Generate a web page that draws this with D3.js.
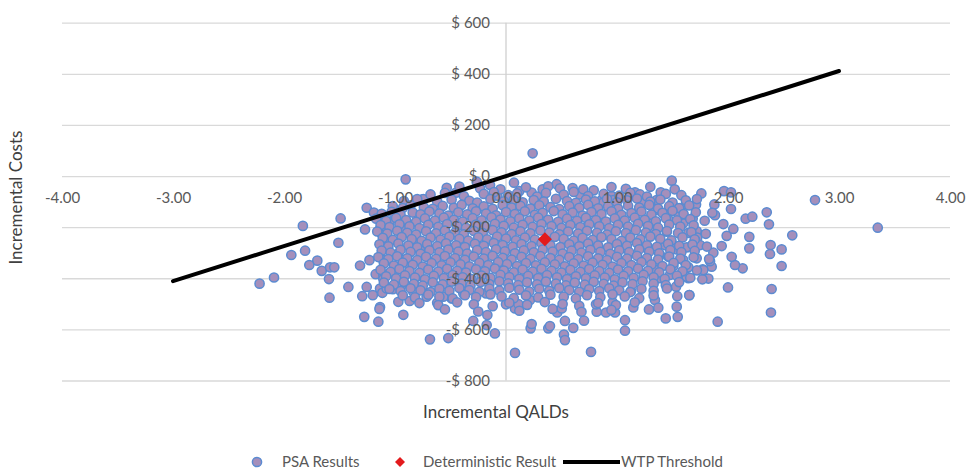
<!DOCTYPE html>
<html>
<head>
<meta charset="utf-8">
<script src="https://cdn.jsdelivr.net/npm/d3@7.9.0/dist/d3.min.js"></script>
<style>
  html, body { margin: 0; padding: 0; background: #fff; }
  svg { display: block; font-family: Lato, "Open Sans", sans-serif; }
  .tick text { fill: #595959; font-size: 15px; }
</style>
</head>
<body>
<svg id="chart" width="968" height="469"></svg>
<script>
// x ticks (QALDs) and y ticks (costs)
const xTicks = [-4, -3, -2, -1, 0, 1, 2, 3, 4];
const yTicks = [-800, -600, -400, -200, 0, 200, 400, 600];

// deterministic result and WTP threshold line ends
const deterministic = [[0.35, -247]];
const wtpLine = [[-3, -411], [3, 411]];

// PSA results: scattered points around the cloud
const psaOuter = [
  [-1.255,-124],[-1.19,-143],[-1.49,-166],[-1.83,-195],[-1.27,-209],[-1.05,-180],[-1.135,-207],[-1.126,-223],
  [-1.105,-254],[-1.063,-282],[-1.51,-261],[-1.81,-292],[-1.934,-309],[-1.70,-331],[-1.772,-348],[-1.66,-371],
  [-1.585,-357],[-1.547,-357],[-1.595,-403],[-2.09,-397],[-2.22,-421],[-1.315,-350],[-1.23,-329],[-1.174,-384],
  [-1.105,-387],[-1.105,-403],[-1.42,-434],[-1.255,-434],[-1.135,-440],[-1.114,-457],[-1.02,-443],[-1.295,-470],
  [-1.20,-466],[-1.59,-476],[-1.135,-513],[-1.277,-551],[-1.15,-570],[-1.14,-520],[-0.925,-543],[-0.868,-489],
  [-0.685,-639],[-0.52,-634],[-0.295,-567],[-0.168,-544],[-0.174,-583],[-0.10,-616],[-0.49,-479],[-0.385,-459],
  [-0.62,-496],[-0.71,-459],[0.081,-692],[0.766,-688],[0.222,-596],[0.231,-579],[0.381,-596],[0.396,-587],
  [0.522,-620],[0.531,-642],[0.606,-594],[0.531,-567],[0.703,-566],[1.072,-605],[1.072,-564],[1.439,-557],
  [1.547,-551],[1.538,-511],[1.907,-570],[2.00,-436],[2.387,-534],[2.393,-442],[1.652,-466],[1.342,-485],
  [1.288,-522],[1.372,-515],[1.147,-514],[1.126,-450],[0.982,-534],[0.961,-494],[0.901,-534],[0.817,-531],
  [0.811,-502],[0.462,-534],[0.502,-518],[0.216,-485],[0.081,-518],[0.111,-501],[0.0,-502],[-0.18,-459],
  [1.493,-18],[1.964,-59],[2.027,-64],[1.162,-64],[1.207,-72],[1.394,-64],[2.784,-94],[3.349,-202],
  [2.349,-142],[2.369,-189],[2.159,-167],[2.219,-159],[2.192,-238],[2.192,-283],[2.579,-232],[2.483,-287],
  [2.384,-270],[2.378,-305],[2.483,-352],[2.132,-361],[2.063,-348],[2.033,-316],[2.048,-207],[2.027,-129],
  [1.988,-234],[1.958,-188],[1.877,-111],[1.883,-153],[1.859,-144],[1.943,-274],[1.868,-300],[1.853,-355],
  [1.838,-333],[1.772,-365],[1.823,-401],[1.769,-404],[1.712,-111],[1.619,-111],[1.682,-166],[1.718,-215],
  [1.723,-241],[1.643,-400],[1.651,-466],[1.543,-470],[1.532,-433],
  [1.597,-185],[1.643,-222],[1.703,-250],[1.748,-270],[1.628,-279],[1.538,-287],[1.493,-263],[1.448,-218],
  [1.463,-170],[1.559,-153],[1.523,-123],[1.477,-130],[1.372,-133],[1.297,-172],[1.327,-211],[1.432,-270],
  [1.387,-309],[1.463,-316],[1.508,-352],[1.597,-329],[1.643,-357],[1.718,-322],[1.778,-368],[1.628,-394],
  [1.477,-387],[1.387,-400],[1.357,-368],
  [-0.904,-13],[-0.75,-91],[-0.534,-46],[-0.45,-65],[-0.264,-22],[-0.234,-48],[-0.144,-35],[0.072,-26],
  [0.24,89],[0.231,-65],[0.33,-52],[0.456,-32],[0.486,-48],[0.667,-72],[0.696,-52],[0.862,-94],[0.952,-78],
  [-0.078,-77],[0.12,-59],[-0.745,-90],[1.357,-94],[1.342,-133],[1.237,-104],[0.877,-104],[0.967,-94],
  [-1.09,-198],[-0.955,-192],[-0.91,-211],[-1.045,-250],[-0.835,-263],[-0.775,-290],[-0.97,-303],[-1.105,-329],
  [-0.88,-342],[-1.015,-381],[-0.805,-394],[-0.94,-427],[-1.075,-440],[-0.835,-453],[-0.715,-472],[-0.97,-492],
  [-0.565,-472]
];

// PSA results in the dense middle of the cloud
const psaCore = [
  [-0.42,-41],[-0.05,-52],[0.18,-44],[0.38,-40],[0.6,-47],[0.79,-56],[0.95,-43],[1.08,-50],[1.3,-42],[1.52,-52],
  [-0.68,-72],[-0.55,-66],[-0.38,-78],[-0.2,-70],[-0.11,-63],[0.02,-75],[0.1,-68],[0.28,-80],[0.36,-66],[0.52,-73],
  [0.61,-62],[0.74,-78],[0.88,-70],[1.02,-77],[1.12,-66],[1.27,-80],[1.44,-70],[1.58,-75],[1.76,-68],
  [-0.92,-98],[-0.8,-90],[-0.62,-100],[-0.49,-92],[-0.33,-97],[-0.26,-104],[-0.14,-90],[-0.02,-99],[0.07,-93],
  [0.15,-103],[0.25,-94],[0.34,-100],[0.45,-89],[0.55,-98],[0.63,-105],[0.72,-92],[0.8,-99],[0.91,-90],[1.0,-103],
  [1.09,-95],[1.18,-88],[1.3,-100],[1.39,-92],[1.5,-104],[1.62,-95],[1.72,-90],
  [-1.02,-118],[-0.93,-125],[-0.86,-115],[-0.74,-122],[-0.66,-128],[-0.57,-117],[-0.47,-124],[-0.4,-113],
  [-0.3,-126],[-0.2,-119],[-0.12,-128],[-0.03,-114],[0.05,-123],[0.13,-117],[0.22,-127],[0.3,-115],[0.4,-122],
  [0.48,-129],[0.57,-118],[0.66,-124],[0.74,-113],[0.83,-126],[0.92,-119],[1.01,-128],[1.1,-116],[1.2,-123],
  [1.29,-113],[1.37,-127],[1.47,-118],[1.56,-125],[1.65,-115],
  [-1.12,-148],[-1.03,-140],[-0.95,-152],[-0.84,-143],[-0.77,-150],[-0.69,-139],[-0.6,-147],[-0.52,-155],
  [-0.43,-142],[-0.35,-150],[-0.27,-138],[-0.18,-147],[-0.09,-154],[0.0,-141],[0.08,-149],[0.17,-138],[0.26,-152],
  [0.33,-144],[0.43,-137],[0.51,-150],[0.6,-143],[0.69,-155],[0.77,-141],[0.86,-149],[0.95,-138],[1.04,-152],
  [1.13,-145],[1.22,-139],[1.31,-151],[1.41,-144],[1.5,-136],[1.6,-149],[1.71,-142],
  [-1.17,-167],[-1.08,-175],[-0.99,-164],[-0.9,-172],[-0.81,-179],[-0.73,-166],[-0.64,-174],[-0.56,-163],
  [-0.47,-171],[-0.39,-178],[-0.3,-165],[-0.22,-173],[-0.13,-162],[-0.05,-170],[0.04,-177],[0.12,-166],[0.21,-174],
  [0.29,-163],[0.38,-171],[0.47,-179],[0.55,-167],[0.64,-175],[0.72,-164],[0.81,-172],[0.9,-178],[0.98,-166],
  [1.07,-174],[1.16,-163],[1.25,-171],[1.35,-177],[1.44,-165],[1.54,-173],[1.66,-168],[1.79,-175],
  [-1.13,-192],[-1.05,-200],[-0.96,-189],[-0.87,-197],[-0.78,-204],[-0.7,-191],[-0.61,-199],[-0.53,-188],
  [-0.44,-196],[-0.36,-203],[-0.27,-190],[-0.19,-198],[-0.1,-187],[-0.02,-195],[0.07,-202],[0.15,-191],[0.24,-199],
  [0.32,-188],[0.41,-196],[0.5,-203],[0.58,-192],[0.67,-200],[0.75,-189],[0.84,-197],[0.93,-204],[1.01,-191],
  [1.1,-198],[1.19,-187],[1.28,-196],[1.37,-202],[1.47,-190],[1.57,-198],[1.69,-193],
  [-1.16,-217],[-1.07,-225],[-0.98,-214],[-0.89,-222],[-0.81,-229],[-0.72,-216],[-0.63,-224],[-0.55,-213],
  [-0.46,-221],[-0.38,-228],[-0.29,-215],[-0.21,-223],[-0.12,-212],[-0.04,-220],[0.05,-227],[0.13,-216],[0.22,-224],
  [0.31,-213],[0.39,-221],[0.48,-228],[0.56,-217],[0.65,-225],[0.73,-214],[0.82,-222],[0.91,-229],[0.99,-216],
  [1.08,-223],[1.17,-212],[1.26,-221],[1.35,-227],[1.45,-215],[1.55,-223],[1.67,-219],[1.8,-226],
  [-1.11,-242],[-1.02,-250],[-0.94,-239],[-0.85,-247],[-0.76,-254],[-0.68,-241],[-0.59,-249],[-0.51,-238],
  [-0.42,-246],[-0.34,-253],[-0.25,-240],[-0.17,-248],[-0.08,-237],[0.0,-245],[0.09,-252],[0.17,-241],[0.26,-249],
  [0.44,-238],[0.52,-246],[0.61,-253],[0.69,-242],[0.78,-250],[0.86,-239],[0.95,-247],[1.04,-254],[1.12,-241],
  [1.21,-248],[1.3,-237],[1.39,-246],[1.49,-252],[1.59,-240],[1.7,-248],
  [-1.14,-267],[-1.06,-275],[-0.97,-264],[-0.88,-272],[-0.8,-279],[-0.71,-266],[-0.62,-274],[-0.54,-263],
  [-0.45,-271],[-0.37,-278],[-0.28,-265],[-0.2,-273],[-0.11,-262],[-0.03,-270],[0.06,-277],[0.14,-266],[0.23,-274],
  [0.32,-263],[0.4,-271],[0.49,-278],[0.57,-267],[0.66,-275],[0.74,-264],[0.83,-272],[0.92,-279],[1.0,-266],
  [1.09,-273],[1.18,-262],[1.27,-271],[1.36,-277],[1.46,-265],[1.56,-273],[1.68,-268],[1.81,-276],
  [-1.12,-292],[-1.04,-300],[-0.95,-289],[-0.86,-297],[-0.77,-304],[-0.69,-291],[-0.6,-299],[-0.52,-288],
  [-0.43,-296],[-0.35,-303],[-0.26,-290],[-0.18,-298],[-0.09,-287],[-0.01,-295],[0.08,-302],[0.16,-291],[0.25,-299],
  [0.33,-288],[0.42,-296],[0.51,-303],[0.59,-292],[0.68,-300],[0.76,-289],[0.85,-297],[0.94,-304],[1.02,-291],
  [1.11,-298],[1.2,-287],[1.29,-296],[1.38,-302],[1.48,-290],[1.58,-298],[1.7,-293],
  [-1.15,-317],[-1.06,-325],[-0.98,-314],[-0.89,-322],[-0.8,-329],[-0.72,-316],[-0.63,-324],[-0.55,-313],
  [-0.46,-321],[-0.37,-328],[-0.29,-315],[-0.2,-323],[-0.12,-312],[-0.03,-320],[0.05,-327],[0.14,-316],[0.22,-324],
  [0.31,-313],[0.4,-321],[0.48,-328],[0.57,-317],[0.65,-325],[0.74,-314],[0.83,-322],[0.91,-329],[1.0,-316],
  [1.09,-323],[1.18,-312],[1.27,-321],[1.37,-327],[1.47,-315],[1.57,-323],[1.69,-318],[1.83,-325],
  [-1.1,-342],[-1.01,-350],[-0.93,-339],[-0.84,-347],[-0.75,-354],[-0.67,-341],[-0.58,-349],[-0.5,-338],
  [-0.41,-346],[-0.33,-353],[-0.24,-340],[-0.16,-348],[-0.07,-337],[0.01,-345],[0.1,-352],[0.18,-341],[0.27,-349],
  [0.35,-338],[0.44,-346],[0.53,-353],[0.61,-342],[0.7,-350],[0.78,-339],[0.87,-347],[0.96,-354],[1.04,-341],
  [1.13,-348],[1.22,-337],[1.31,-346],[1.41,-352],[1.51,-340],[1.62,-348],
  [-1.13,-367],[-1.04,-375],[-0.96,-364],[-0.87,-372],[-0.78,-379],[-0.7,-366],[-0.61,-374],[-0.53,-363],
  [-0.44,-371],[-0.36,-378],[-0.27,-365],[-0.19,-373],[-0.1,-362],[-0.02,-370],[0.07,-377],[0.15,-366],[0.24,-374],
  [0.32,-363],[0.41,-371],[0.5,-378],[0.58,-367],[0.67,-375],[0.75,-364],[0.84,-372],[0.93,-379],[1.01,-366],
  [1.1,-373],[1.19,-362],[1.28,-371],[1.38,-377],[1.48,-365],[1.59,-373],[1.72,-369],
  [-1.08,-392],[-0.99,-400],[-0.91,-389],[-0.82,-397],[-0.73,-404],[-0.65,-391],[-0.56,-399],[-0.48,-388],
  [-0.39,-396],[-0.31,-403],[-0.22,-390],[-0.14,-398],[-0.05,-387],[0.03,-395],[0.12,-402],[0.2,-391],[0.29,-399],
  [0.37,-388],[0.46,-396],[0.55,-403],[0.63,-392],[0.72,-400],[0.8,-389],[0.89,-397],[0.98,-404],[1.06,-391],
  [1.15,-398],[1.24,-387],[1.33,-396],[1.43,-402],[1.54,-390],[1.66,-398],
  [-1.1,-417],[-1.01,-425],[-0.92,-414],[-0.83,-422],[-0.75,-429],[-0.66,-416],[-0.57,-424],[-0.49,-413],
  [-0.4,-421],[-0.32,-428],[-0.23,-415],[-0.15,-423],[-0.06,-412],[0.02,-420],[0.11,-427],[0.19,-416],[0.28,-424],
  [0.36,-413],[0.45,-421],[0.54,-428],[0.62,-417],[0.71,-425],[0.79,-414],[0.88,-422],[0.97,-429],[1.05,-416],
  [1.14,-423],[1.23,-412],[1.33,-421],[1.44,-427],[1.56,-415],
  [-1.05,-442],[-0.95,-450],[-0.86,-439],[-0.77,-447],[-0.68,-454],[-0.6,-441],[-0.51,-449],[-0.42,-438],
  [-0.33,-446],[-0.24,-453],[-0.15,-440],[-0.06,-448],[0.03,-437],[0.12,-445],[0.21,-452],[0.3,-441],[0.39,-449],
  [0.48,-438],[0.57,-446],[0.66,-453],[0.75,-442],[0.84,-450],[0.93,-439],[1.02,-447],[1.12,-454],[1.22,-441],
  [1.33,-449],[1.45,-440],
  [-0.93,-467],[-0.82,-475],[-0.7,-464],[-0.6,-472],[-0.48,-479],[-0.37,-466],[-0.27,-474],[-0.14,-463],
  [-0.04,-471],[0.07,-478],[0.18,-467],[0.29,-475],[0.4,-464],[0.52,-472],[0.63,-479],[0.73,-466],[0.85,-474],
  [0.96,-463],[1.07,-471],[1.2,-478],[1.33,-467],
  [-0.78,-497],[-0.61,-505],[-0.44,-494],[-0.29,-502],[-0.12,-509],[0.03,-496],[0.19,-504],[0.35,-493],
  [0.51,-501],[0.66,-508],[0.83,-497],[0.99,-505],[1.16,-494],
  [-0.55,-522],[-0.25,-530],[0.12,-527],[0.42,-520],[0.68,-531],[0.95,-524]
];

const psa = psaOuter.concat(psaCore);

const svg = d3.select('#chart');
const x = d3.scaleLinear().domain([-4, 4]).range([62, 950]);
const y = d3.scaleLinear().domain([-800, 600]).range([380.5, 22.7]);

// horizontal gridlines
svg.append('g')
  .attr('transform', `translate(${x(-4)},0)`)
  .call(d3.axisLeft(y).tickValues(yTicks).tickSize(-(x(4) - x(-4))).tickFormat(''))
  .call((g) => g.select('.domain').remove())
  .call((g) => g.selectAll('line').attr('stroke', '#d9d9d9').attr('stroke-width', 1.3));

// vertical axis line at x = 0
svg.append('line')
  .attr('x1', x(0)).attr('x2', x(0))
  .attr('y1', y(600)).attr('y2', y(-800))
  .attr('stroke', '#d0d0d0').attr('stroke-width', 1.3);

// PSA points
svg.append('g')
  .selectAll('circle')
  .data(psa)
  .join('circle')
  .attr('cx', (d) => x(d[0]))
  .attr('cy', (d) => y(d[1]))
  .attr('r', 4.6)
  .attr('fill', '#a58fbb')
  .attr('stroke', '#5b8bd1')
  .attr('stroke-width', 1.5);

// deterministic result
svg.append('g')
  .selectAll('path')
  .data(deterministic)
  .join('path')
  .attr('transform', (d) => `translate(${x(d[0])},${y(d[1])})`)
  .attr('d', 'M0,-7L7,0L0,7L-7,0Z')
  .attr('fill', '#e31a1c');

// WTP threshold
svg.append('path')
  .datum(wtpLine)
  .attr('d', d3.line().x((d) => x(d[0])).y((d) => y(d[1])))
  .attr('fill', 'none')
  .attr('stroke', '#000')
  .attr('stroke-width', 4)
  .attr('stroke-linecap', 'round');

// tick labels
svg.append('g')
  .attr('transform', `translate(0,${y(0)})`)
  .call(d3.axisBottom(x).tickValues(xTicks).tickSize(0).tickPadding(16).tickFormat((d) => d.toFixed(2)))
  .call((g) => g.select('.domain').remove());

svg.append('g')
  .attr('transform', `translate(${x(0)},0)`)
  .call(d3.axisLeft(y).tickValues(yTicks).tickSize(0).tickPadding(16)
    .tickFormat((d) => `${d < 0 ? '-' : ''}$ ${Math.abs(d)}`))
  .call((g) => g.select('.domain').remove());

svg.selectAll('.tick text').attr('font-family', 'Lato, sans-serif');

// axis titles
svg.append('text')
  .attr('transform', `translate(22,${(y(600) + y(-800)) / 2 - 4}) rotate(-90)`)
  .attr('text-anchor', 'middle')
  .attr('fill', '#404040')
  .attr('font-size', 17)
  .text('Incremental Costs');

svg.append('text')
  .attr('x', 496)
  .attr('y', 418)
  .attr('text-anchor', 'middle')
  .attr('fill', '#404040')
  .attr('font-size', 17)
  .text('Incremental QALDs');

// legend
const legend = svg.append('g').attr('transform', 'translate(0,462)');
legend.append('circle').attr('cx', 257).attr('cy', 0).attr('r', 4.6)
  .attr('fill', '#a58fbb').attr('stroke', '#5b8bd1').attr('stroke-width', 1.5);
legend.append('text').attr('x', 282).attr('y', 5).attr('fill', '#595959').attr('font-size', 15).text('PSA Results');
legend.append('path').attr('transform', 'translate(400,0)').attr('d', 'M0,-5L5,0L0,5L-5,0Z').attr('fill', '#e31a1c');
legend.append('text').attr('x', 423).attr('y', 5).attr('fill', '#595959').attr('font-size', 15).text('Deterministic Result');
legend.append('line').attr('x1', 563).attr('x2', 620).attr('y1', 0).attr('y2', 0)
  .attr('stroke', '#000').attr('stroke-width', 4);
legend.append('text').attr('x', 621).attr('y', 5).attr('fill', '#595959').attr('font-size', 15).text('WTP Threshold');
</script>
</body>
</html>
